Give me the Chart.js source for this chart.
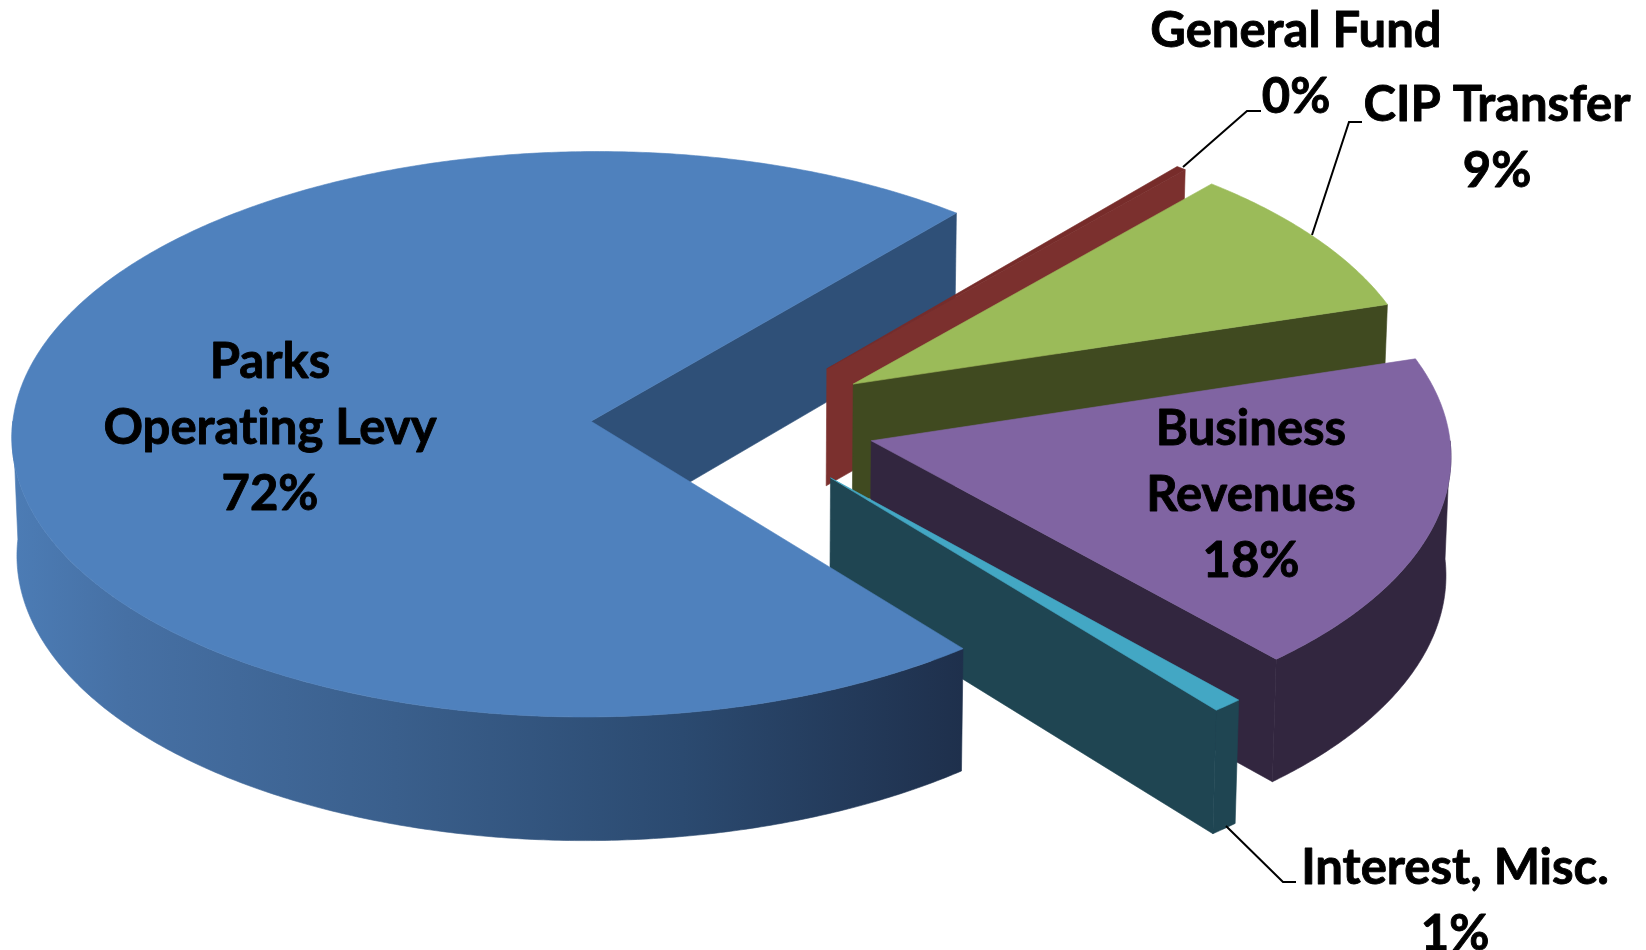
<!DOCTYPE html>
<html><head><meta charset="utf-8">
<style>html,body{margin:0;padding:0;background:#fff}canvas{display:block}</style>
<script src="https://cdn.jsdelivr.net/npm/chart.js@4"></script>
</head><body><canvas id="c" width="1646" height="950"></canvas>
<script>
const categories = ["Parks Operating Levy","General Fund","CIP Transfer","Business Revenues","Interest, Misc."];
const shares = [72.0,0.3,8.8,18.1,0.8];
const topColors = ["#4f81bd","#772c2a","#9bbb59","#8064a2","#43a7c4"];
const wallColors = ["#2f5078","#7b302e","#404a20","#32263f","#1f4552"];
const explode = [142,145,144,143,149];
const rimScale = [0.997,0.985,0.985,0.995,1];
const labelLines = [["Parks","Operating Levy"],["General Fund"],["CIP Transfer"],["Business","Revenues"],["Interest, Misc."]];

const VIEW = {k:0.488, p:0.046, depth:118, shrink:0.993, step:Math.PI/360};
const FONT = 'bold 49px Lato';
const LINE_H = 66;
const labelAnchors = [[270,378],[1296,47],[1497,121],[1251,445],[1455,884]];
const leaders = [null,[[1183,167],[1247,111],[1261,111]],[[1312,235],[1349,122],[1362,122]],null,[[1226,826],[1283,882],[1296,882]]];
const paintOrder = [1,2,3,4,0];

const pie3d = {
  id:'pie3d',
  beforeDatasetsDraw(chart){
    const ctx = chart.ctx, arcs = chart.getDatasetMeta(0).data;
    const proj = (el,u,v,h)=>{
      const R = el.outerRadius, t = v/R, s = 1/(1-VIEW.p*t);
      const sx = h ? s*VIEW.shrink : s;
      return [el.x+u*sx, el.y+R*VIEW.k*t*s+h*VIEW.depth*s];
    };
    const geo = el=>{
      const off = el.options.offset, mid = (el.startAngle+el.endAngle)/2;
      return {ox:Math.cos(mid)*off, oy:Math.sin(mid)*off, r:el.outerRadius*rimScale[arcs.indexOf(el)]};
    };
    const rim = (el,a,h)=>{const g=geo(el);return proj(el,g.ox+Math.cos(a)*g.r,g.oy+Math.sin(a)*g.r,h);};
    const apex = (el,h)=>{const g=geo(el);return proj(el,g.ox,g.oy,h);};
    const fill = (pts,color)=>{
      ctx.beginPath();pts.forEach((p,i)=>i?ctx.lineTo(p[0],p[1]):ctx.moveTo(p[0],p[1]));ctx.closePath();
      ctx.fillStyle=color;ctx.strokeStyle=color;ctx.lineWidth=0.6;ctx.fill();ctx.stroke();
    };
    const sample = (a,b)=>{const r=[];const n=Math.max(1,Math.ceil((b-a)/VIEW.step));for(let i=0;i<=n;i++)r.push(a+(b-a)*i/n);return r;};
    const radial = (el,a,color)=>fill([apex(el,0),rim(el,a,0),rim(el,a,1),apex(el,1)],color);
    const innerWalls = (el,color)=>{
      if(Math.sin(el.endAngle+Math.PI/2)>0) radial(el,el.endAngle,color);
      if(Math.sin(el.startAngle+Math.PI/2)<0) radial(el,el.startAngle,color);
    };
    const grad = ctx.createLinearGradient(12,0,970,0);
    grad.addColorStop(0,'#4c7cb5');grad.addColorStop(0.12,'#4670a4');grad.addColorStop(0.4,'#3a5f8c');
    grad.addColorStop(0.7,'#2b4a70');grad.addColorStop(1,'#1e2f4b');
    const outerWall = (el,color)=>{
      const TAU=Math.PI*2;
      for(let k=-1;k<=1;k++){
        const a=Math.max(el.startAngle,k*TAU), b=Math.min(el.endAngle,k*TAU+Math.PI);
        if(b>a){const as=sample(a,b);
          fill(as.map(x=>rim(el,x,0)).concat(as.slice().reverse().map(x=>rim(el,x,1))),color);}
      }
    };
    const topFace = (el,color)=>fill([apex(el,0)].concat(sample(el.startAngle,el.endAngle).map(x=>rim(el,x,0))),color);
    innerWalls(arcs[0],wallColors[0]);
    paintOrder.forEach(i=>{
      const el=arcs[i];
      if(i!==0) innerWalls(el,wallColors[i]);
      outerWall(el,i===0?grad:wallColors[i]);
      topFace(el,el.options.backgroundColor);
    });
    return false;
  },
  afterDraw(chart){
    const ctx=chart.ctx;
    ctx.save();
    ctx.strokeStyle='#000';ctx.lineWidth=2;
    leaders.forEach(l=>{if(!l)return;ctx.beginPath();l.forEach((p,i)=>i?ctx.lineTo(p[0],p[1]):ctx.moveTo(p[0],p[1]));ctx.stroke();});
    ctx.fillStyle='#000';ctx.font=FONT;ctx.textAlign='center';ctx.textBaseline='alphabetic';
    ctx.textRendering='optimizeSpeed';
    ctx.lineWidth=0.9;ctx.lineJoin='round';
    labelLines.forEach((lines,i)=>{
      const all=lines.concat([Math.round(shares[i])+'%']);
      all.forEach((t,j)=>{
        const x=labelAnchors[i][0],y=labelAnchors[i][1]+j*LINE_H;
        ctx.fillText(t,x,y);ctx.strokeText(t,x,y);
      });
    });
    ctx.restore();
  }
};

new Chart(document.getElementById('c'),{
  type:'pie',
  data:{labels:categories,datasets:[{data:shares,backgroundColor:topColors,offset:explode,borderWidth:0,clip:false}]},
  options:{
    responsive:false,animation:false,rotation:141,radius:580,
    layout:{padding:{left:0,top:0,right:180,bottom:106}},
    plugins:{legend:{display:false},tooltip:{enabled:false}}
  },
  plugins:[pie3d]
});
</script></body></html>
